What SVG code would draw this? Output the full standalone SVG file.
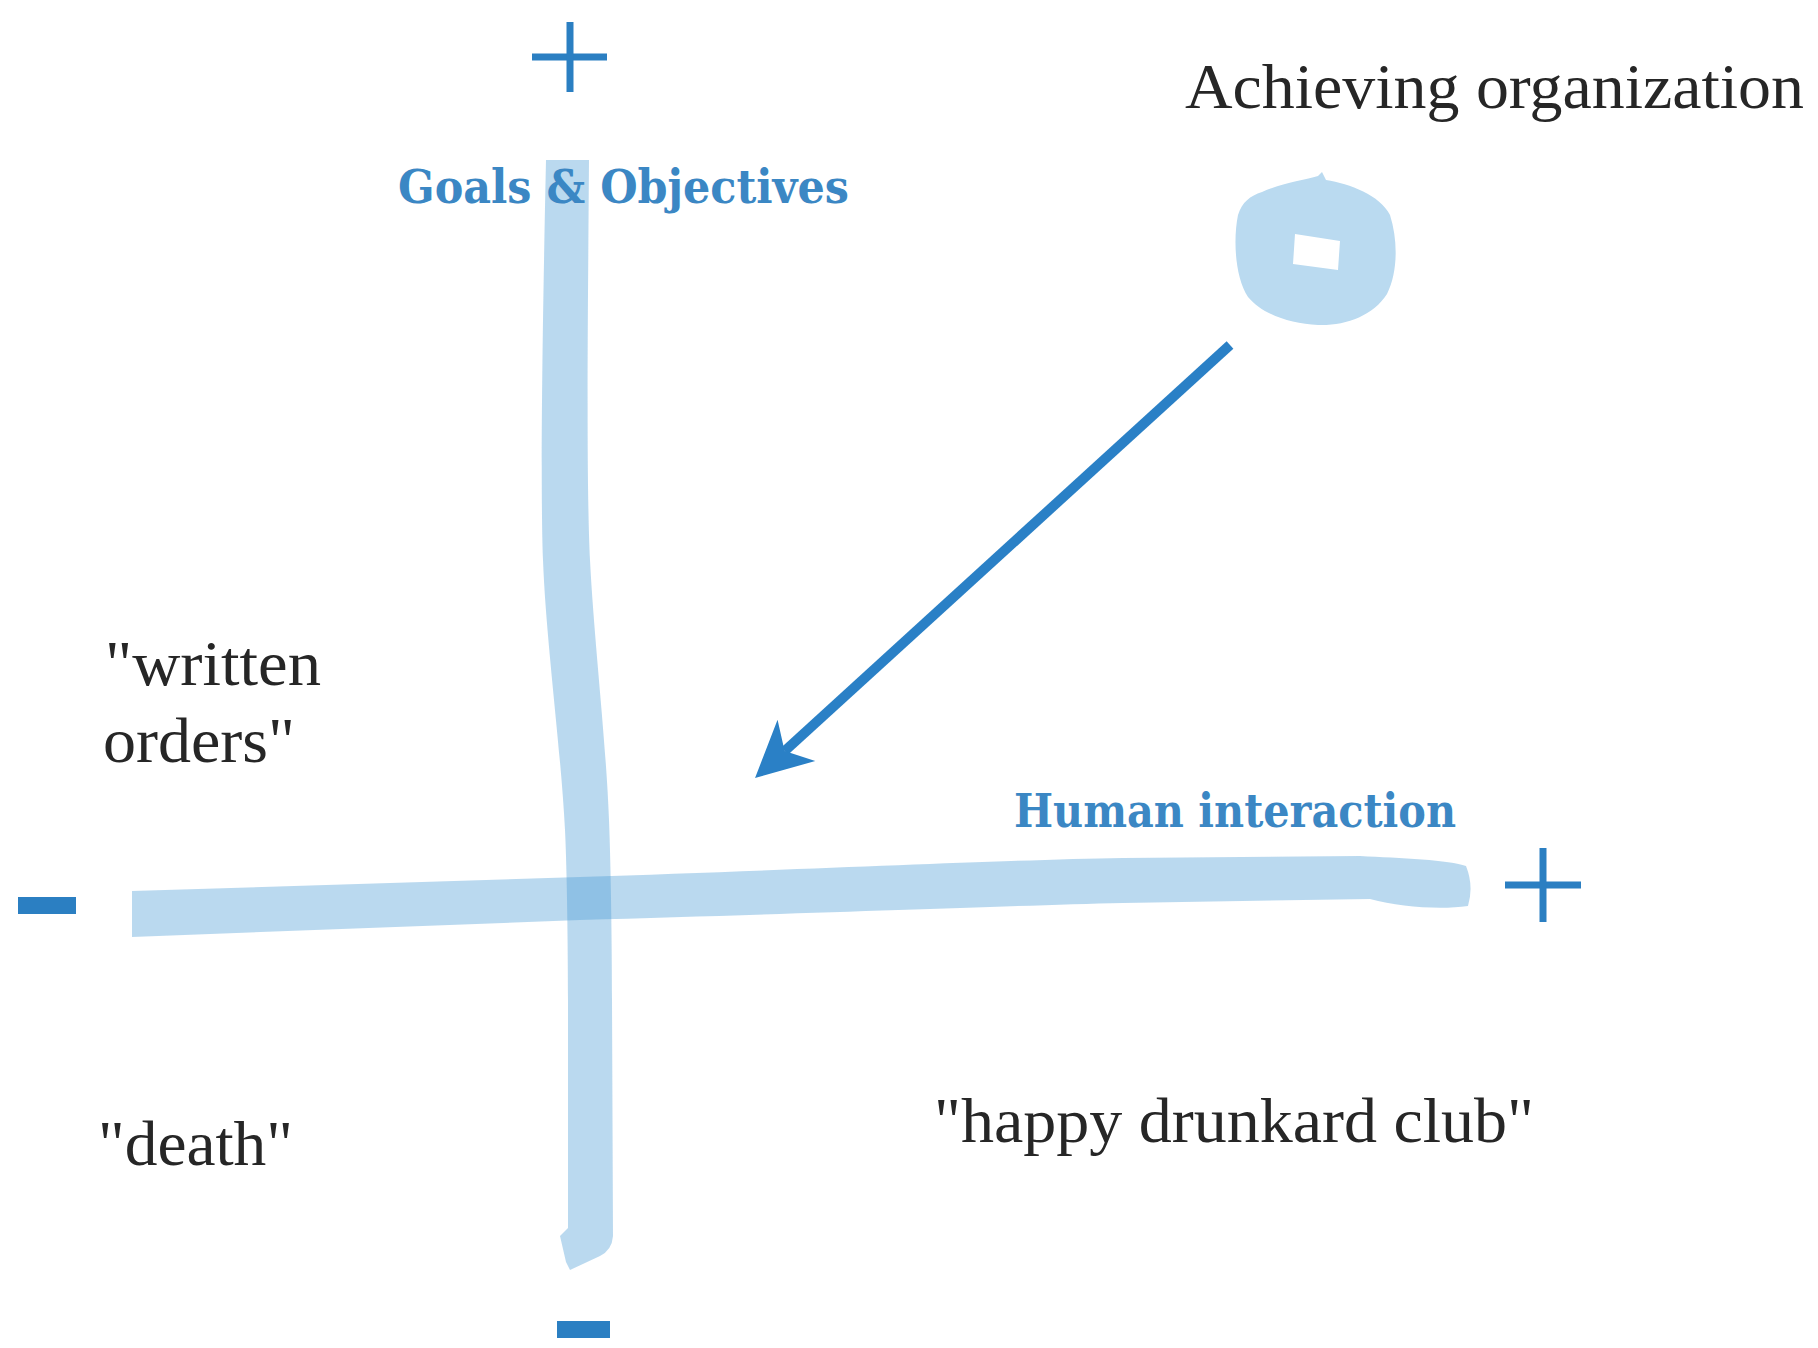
<svg xmlns="http://www.w3.org/2000/svg" width="1818" height="1348" viewBox="0 0 1818 1348">
<defs>
<style>
.bar{fill:#4a9ad6;fill-opacity:0.38;stroke:none}
.sign{stroke:#2b7fc2;stroke-width:7;fill:none}
.minus{fill:#2b7fc2}
.lbl{font-family:"Liberation Serif","Times New Roman",serif;font-size:63px;fill:#262626}
.axis{font-family:"DejaVu Serif","Liberation Serif",serif;font-weight:bold;font-size:47px;fill:#3b87c4}
.arrow{stroke:#2a80c6;stroke-width:10;fill:none}
</style>
<marker id="head" markerUnits="userSpaceOnUse" viewBox="-58 -32 64 64" markerWidth="64" markerHeight="64" refX="-40" refY="0" orient="auto">
<path d="M0,0 L-56,-28 L-40,0 L-56,28 Z" fill="#2a80c6"/>
</marker>
</defs>
<rect width="1818" height="1348" fill="#ffffff"/>

<g id="axis-vertical">
<path class="bar" d="M546,160 L589,160 C588,300 586,480 590,560 C594,640 606,740 609,820 C611,870 612,950 612,1000 L613,1236 Q612,1250 600,1256 L570,1270 L566,1262 L560,1236 L568,1228 L568,1000 C568,950 567,870 565,830 C561,750 546,640 543,560 C540,480 543,300 546,160 Z"/>
</g>
<g id="axis-horizontal">
<path class="bar" d="M132,891 L580,877 C800,870 1000,860 1123,858 L1360,856 C1400,858 1450,860 1466,866 Q1474,886 1468,906 C1440,910 1400,907 1370,899 L1123,903 C1000,906 800,914 580,920 L132,937 Z"/>
</g>

<g id="goals-label">
<text class="axis" x="398" y="203" textLength="451" lengthAdjust="spacingAndGlyphs">Goals &amp; Objectives</text>
</g>
<g id="human-label">
<text class="axis" x="1014" y="827" textLength="442" lengthAdjust="spacingAndGlyphs">Human interaction</text>
</g>

<g id="plus-top">
<line class="sign" x1="532" y1="57" x2="607" y2="57"/>
<line class="sign" x1="570" y1="22" x2="570" y2="92"/>
</g>
<g id="plus-right">
<line class="sign" x1="1505" y1="885" x2="1581" y2="885"/>
<line class="sign" x1="1543" y1="848" x2="1543" y2="922"/>
</g>
<g id="minus-left">
<rect class="minus" x="18" y="897" width="58" height="17"/>
</g>
<g id="minus-bottom">
<rect class="minus" x="557" y="1321" width="53" height="17"/>
</g>

<g id="achieving-organization">
<text class="lbl" x="1185" y="108" textLength="619" lengthAdjust="spacingAndGlyphs">Achieving organization</text>
<path fill="#badaf0" fill-rule="evenodd" d="M1262,192 C1285,182 1305,180 1318,176 L1322,172 L1326,180 C1350,184 1380,195 1390,215 C1398,240 1398,272 1387,294 C1373,316 1345,326 1318,325 C1290,324 1262,314 1248,297 C1235,277 1233,240 1238,215 C1242,202 1250,196 1262,192 Z M1295,234 L1340,241 L1338,270 L1293,264 Z"/>
</g>

<g id="written-orders">
<text class="lbl" x="105" y="685" textLength="216" lengthAdjust="spacingAndGlyphs">"written</text>
<text class="lbl" x="103" y="762" textLength="192" lengthAdjust="spacingAndGlyphs">orders"</text>
</g>
<g id="death">
<text class="lbl" x="98" y="1165" textLength="195" lengthAdjust="spacingAndGlyphs">"death"</text>
</g>
<g id="happy-drunkard-club">
<text class="lbl" x="934" y="1142" textLength="600" lengthAdjust="spacingAndGlyphs">"happy drunkard club"</text>
</g>

<g id="connectors">
<line class="arrow" x1="1230" y1="345" x2="784.6" y2="751.1" marker-end="url(#head)"/>
</g>
</svg>
